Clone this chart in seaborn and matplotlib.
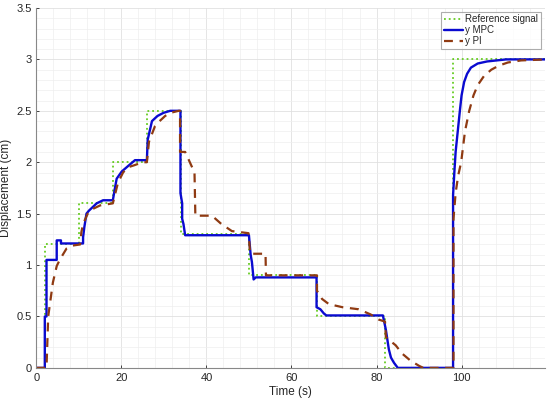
import numpy as np
import pandas as pd
import seaborn as sns
import matplotlib.pyplot as plt
from matplotlib.ticker import MultipleLocator

# reference signal (stairs)
ref_t = [0, 2, 10, 18, 26, 34, 50, 66, 82, 98, 120]
ref_y = [0, 1.2, 1.6, 2.0, 2.5, 1.3, 0.9, 0.5, 0.0, 3.0, 3.0]

# MPC response (corner points)
mpc_t = [0, 2.0, 2.0, 2.4, 2.4, 4.8, 4.8, 5.8, 5.8, 11.0, 11.0, 11.3, 11.8, 12.4, 14.2,
         15.7, 18.0, 18.5, 18.9, 20.1, 21.5, 23.2, 26.0, 26.2, 27.2, 28.5, 29.9, 31.5,
         33.9, 33.9, 34.3, 34.3, 34.6, 35.0, 50.0, 50.4, 50.7, 51.1, 51.6, 65.9, 65.9,
         66.8, 67.6, 68.2, 81.5, 82.2, 82.9, 83.4, 84.1, 85.0, 98.0, 98.0, 98.3, 98.6,
         99.1, 99.6, 100.0, 100.6, 101.3, 102.2, 103.8, 106.0, 110.5, 120.0]
mpc_y = [0, 0, 0.5, 0.5, 1.05, 1.05, 1.24, 1.24, 1.21, 1.21, 1.27, 1.37, 1.5, 1.53, 1.6,
         1.63, 1.63, 1.75, 1.84, 1.91, 1.96, 2.02, 2.02, 2.22, 2.4, 2.45, 2.48, 2.5,
         2.5, 1.7, 1.6, 1.45, 1.4, 1.29, 1.29, 1.1, 1.03, 0.86, 0.88, 0.88, 0.59,
         0.57, 0.53, 0.51, 0.51, 0.37, 0.18, 0.1, 0.05, 0.0, 0.0, 1.68, 1.9, 2.1,
         2.3, 2.5, 2.65, 2.78, 2.86, 2.92, 2.96, 2.98, 3.0, 3.0]

# PI response
pi_t = [0, 2.4, 2.8, 3.9, 4.8, 5.5, 7.1, 8.6, 10.3, 10.6, 11.0, 12.1, 13.0, 15.0, 18.0,
        18.6, 19.2, 20.4, 21.5, 23.0, 25.0, 26.0, 26.5, 27.9, 29.0, 30.3, 31.5, 33.5,
        33.8, 33.8, 35.0, 37.2, 37.4, 41.3, 43.5, 46.0, 49.9, 50.3, 53.9, 54.0, 66.0,
        66.0, 67.2, 68.8, 72.0, 75.8, 78.6, 80.5, 82.0, 82.2, 83.0, 84.5, 86.0, 88.0,
        90.0, 91.0, 98.1, 98.1, 98.6, 99.2, 99.9, 100.8, 101.8, 102.8, 103.8, 105.3,
        107.0, 108.8, 110.9, 114.0, 120.0]
pi_y = [0, 0, 0.5, 0.83, 0.99, 1.05, 1.16, 1.19, 1.2, 1.32, 1.4, 1.5, 1.54, 1.58, 1.6,
        1.7, 1.8, 1.9, 1.95, 1.97, 2.0, 2.0, 2.2, 2.35, 2.4, 2.45, 2.48, 2.5,
        2.5, 2.1, 2.1, 1.9, 1.48, 1.48, 1.4, 1.33, 1.31, 1.11, 1.11, 0.9, 0.9,
        0.75, 0.67, 0.62, 0.59, 0.57, 0.52, 0.47, 0.45, 0.3, 0.27, 0.22, 0.14, 0.07,
        0.02, 0.0, 0.0, 1.45, 1.7, 1.87, 2.0, 2.3, 2.5, 2.65, 2.75, 2.84,
        2.9, 2.94, 2.97, 2.99, 3.0]

sns.set_theme(style="whitegrid")
plt.rcParams['font.family'] = ['Liberation Sans', 'DejaVu Sans']

fig, ax = plt.subplots(figsize=(5.5, 3.99), dpi=100)
fig.subplots_adjust(left=0.066, right=0.99, bottom=0.078, top=0.98)

df_ref = pd.DataFrame({"t": ref_t, "y": ref_y})
df_mpc = pd.DataFrame({"t": mpc_t, "y": mpc_y})
df_pi = pd.DataFrame({"t": pi_t, "y": pi_y})

sns.lineplot(data=df_ref, x="t", y="y", ax=ax, color="#66cc22", linestyle=":",
             linewidth=1.3, drawstyle="steps-post", label="Reference signal")
sns.lineplot(data=df_mpc, x="t", y="y", ax=ax, color="#0a0ad0", linestyle="-",
             linewidth=1.7, sort=False, estimator=None, label="y MPC")
sns.lineplot(data=df_pi, x="t", y="y", ax=ax, color="#8f3a12", linestyle=(0, (4, 3)),
             linewidth=1.6, sort=False, estimator=None, label="y PI")

ax.set_xlim(0, 119.5)
ax.set_ylim(0, 3.5)
ax.set_xticks([0, 20, 40, 60, 80, 100])
ax.set_yticks([0, 0.5, 1, 1.5, 2, 2.5, 3, 3.5])
ax.set_yticklabels(["0", "0.5", "1", "1.5", "2", "2.5", "3", "3.5"])
ax.xaxis.set_minor_locator(MultipleLocator(4))
ax.yaxis.set_minor_locator(MultipleLocator(0.1))
ax.grid(which="major", color="#e0e0e0", linewidth=0.6)
ax.grid(which="minor", color="#eeeeee", linewidth=0.5)
ax.set_axisbelow(True)
for side, sp in ax.spines.items():
    if side in ("left", "bottom"):
        sp.set_color("#888888")
        sp.set_linewidth(0.8)
    else:
        sp.set_visible(False)
ax.tick_params(axis="both", labelsize=8, colors="#262626", length=2, direction="in",
               bottom=True, left=True, width=0.6)
ax.set_xlabel("Time (s)", fontsize=8.5, labelpad=2)
ax.set_ylabel("Displacement (cm)", fontsize=8.5, labelpad=3)

leg = ax.legend(loc="upper right", fontsize=7, frameon=True, fancybox=False,
                handlelength=2.0, handletextpad=0.2, borderpad=0.25, labelspacing=0.1,
                borderaxespad=0.4)
leg.get_frame().set_edgecolor("#999999")
leg.get_frame().set_linewidth(0.8)

fig.savefig("out.png", dpi=100)
